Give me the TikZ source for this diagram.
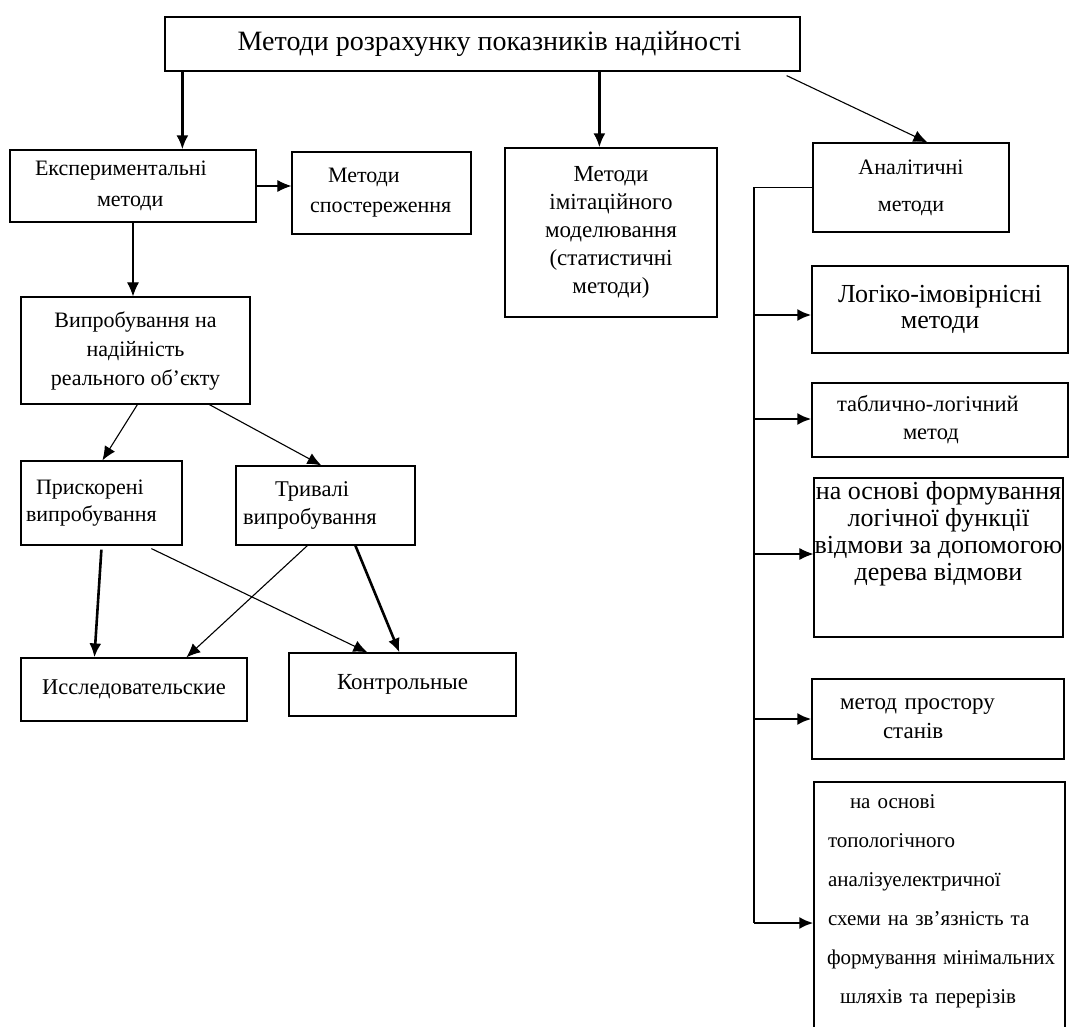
\documentclass[tikz,border=0pt]{standalone}
\usepackage{fontspec}
\setmainfont{Liberation Serif}
\usetikzlibrary{arrows.meta}
\newcommand\fsz[2]{\fontsize{#1}{#2}\selectfont}
\newcommand\ind[1]{\hspace*{#1pt}}

\begin{document}
\begin{tikzpicture}[x=1pt,y=-1pt,>={Latex[length=14pt,width=12pt]},
  box/.style={draw,line width=1.2pt,align=center,inner sep=2pt},
  lbox/.style={box,align=left,inner xsep=0pt},
  txt/.style={align=center,inner sep=0pt},
  arr/.style={->,line width=1.1pt},
  arrb/.style={->,line width=2.6pt}]
\useasboundingbox (0,0) rectangle (1069,1027);
% top level
\node[box,minimum width=635pt,minimum height=54pt,font=\fsz{28}{32}] (title) at (482.5,44) {\ind{14}Методи розрахунку показників надійності};
\node[lbox,text width=246pt,minimum height=72pt,font=\fsz{22}{31}] (eksp) at (133,186) {\ind{25}Експериментальні\\\ind{87}методи};
\node[lbox,text width=179pt,minimum height=82pt,font=\fsz{22}{30}] (spost) at (381.5,193) {\ind{36}Методи\\\ind{18}спостереження};
\node[box,minimum width=212pt,minimum height=169pt,font=\fsz{23}{28}] (imit) at (611,232.5) {Методи\\імітаційного\\моделювання\\(статистичні\\методи)};
\node[box,minimum width=196pt,minimum height=89pt,font=\fsz{22}{37}] (analit) at (911,187.5) {Аналітичні\\методи};
% experimental branch
\node[box,minimum width=229pt,minimum height=107pt,font=\fsz{22}{29}] (vypr) at (135.5,350.5) {Випробування на\\надійність\\реального об'єкту};
\node[lbox,text width=161pt,minimum height=84pt,font=\fsz{22}{27}] (prysk) at (101.5,503) {\ind{15}Прискорені\\\ind{5}випробування};
\node[lbox,text width=179pt,minimum height=79pt,font=\fsz{22.5}{28}] (tryv) at (325.5,505.5) {\ind{39}Тривалі\\\ind{7}випробування};
\node[box,minimum width=226pt,minimum height=63pt,font=\fsz{22.5}{28}] (issl) at (134,689.5) {Исследовательские};
\node[box,minimum width=227pt,minimum height=63pt,font=\fsz{23}{28}] (kontr) at (402.5,684.5) {Контрольные};
% analytic branch
\node[box,minimum width=256pt,minimum height=87pt,font=\fsz{26}{26}] (logik) at (940,309.5) {Логіко-імовірнісні\\методи};
\node[lbox,text width=256pt,minimum height=74pt,font=\fsz{22.5}{28}] (tabl) at (940,420) {\ind{25}таблично-логічний\\\ind{91}метод};
\node[box,minimum width=249pt,minimum height=159pt] (osnova) at (938.5,557.5) {};
\node[txt,font=\fsz{26}{27}] (osnova-t) at ([yshift=24pt]osnova.center) {на основі формування\\логічної функції\\відмови за допомогою\\дерева відмови};
\node[lbox,text width=252pt,minimum height=80pt,font=\fsz{23}{29}] (prostir) at (938,719) {\ind{28}метод простору\\\ind{71}станів};
\node[box,minimum width=251pt,minimum height=258pt] (topol) at (939.5,911) {};
\node[txt,align=left,text width=251pt,font=\fsz{21}{39}] (topol-t) at ([yshift=10pt]topol.center) {\ind{36}на основі\\\ind{14}топологічного\\\ind{14}аналізуелектричної\\\ind{14}схеми на зв'язність та\\\ind{13}формування мінімальних\\\ind{26}шляхів та перерізів};
\coordinate (busend) at (754,923);

% connectors
\draw[arrb] ([xshift=18pt]title.south west) -- ([xshift=173pt]eksp.north west);
\draw[arrb] ([xshift=435pt]title.south west) -- ([xshift=95pt]imit.north west);
\draw[arr] ([xshift=-14pt,yshift=-4pt]title.south east) -- ([xshift=115pt]analit.north west);
\draw[arr] (eksp.east) -- (eksp.east -| spost.west);
\draw[arr] (eksp.south) -- (eksp.south |- vypr.north);
\draw[arr] ([xshift=117pt]vypr.south west) -- ([xshift=82pt]prysk.north west);
\draw[arr] ([xshift=189pt]vypr.south west) -- ([xshift=86pt]tryv.north west);
\draw[arrb] ([xshift=81pt,yshift=-4pt]prysk.south west) -- ([xshift=74pt]issl.north west);
\draw[arr] ([xshift=131pt,yshift=-3pt]prysk.south west) -- ([xshift=79pt]kontr.north west);
\draw[arr] ([xshift=72pt]tryv.south west) -- ([xshift=166pt]issl.north west);
\draw[arrb] ([xshift=120pt]tryv.south west) -- ([xshift=111pt]kontr.north west);
% bus of the analytic methods
\draw[line width=1.1pt] (analit.west) -| (busend);
\draw[arrb] ([yshift=-5.5pt]logik.west -| busend) -- ([yshift=-5.5pt]logik.west);
\draw[arrb] ([yshift=1pt]tabl.west -| busend) -- ([yshift=1pt]tabl.west);
\draw[arr] ([yshift=3.5pt]osnova.west -| busend) -- ([yshift=3.5pt]osnova.west);
\draw[arrb] (prostir.west -| busend) -- (prostir.west);
\draw[arrb] (busend) -- ([yshift=-12pt]topol.west);
\end{tikzpicture}
\end{document}
